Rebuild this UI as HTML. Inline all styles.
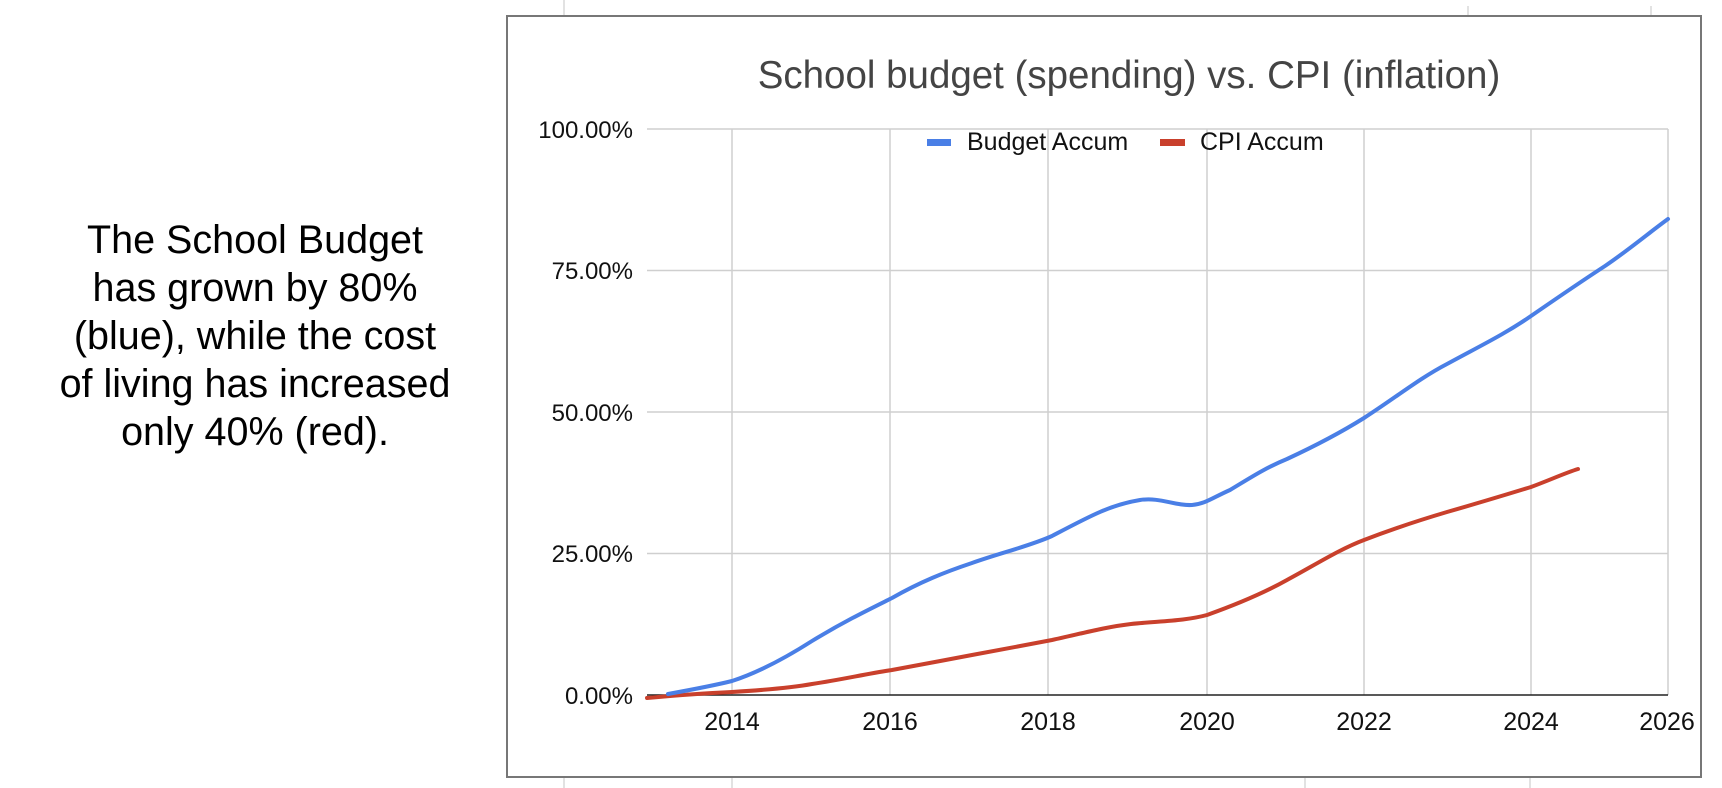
<!DOCTYPE html>
<html><head><meta charset="utf-8"><style>
html,body{margin:0;padding:0;background:#fff;width:1722px;height:788px;overflow:hidden}
svg{display:block}
</style></head><body>
<svg width="1722" height="788" viewBox="0 0 1722 788" xmlns="http://www.w3.org/2000/svg" font-family="Liberation Sans, Arial, sans-serif">
<rect width="1722" height="788" fill="#fff"/>
<g stroke="#d8d8d8" stroke-width="1.5">
<line x1="564" y1="0" x2="564" y2="16"/><line x1="1468" y1="6" x2="1468" y2="16"/><line x1="1651" y1="6" x2="1651" y2="16"/>
<line x1="564" y1="777" x2="564" y2="788"/><line x1="732" y1="777" x2="732" y2="788"/><line x1="1305" y1="777" x2="1305" y2="788"/><line x1="1530" y1="777" x2="1530" y2="788"/>
</g>
<rect x="507" y="16" width="1194" height="761" fill="#fff" stroke="#777" stroke-width="2"/>
<g font-size="39.5" fill="#000" text-anchor="middle">
<text x="255" y="253">The School Budget</text>
<text x="255" y="301">has grown by 80%</text>
<text x="255" y="349">(blue), while the cost</text>
<text x="255" y="397">of living has increased</text>
<text x="255" y="445">only 40% (red).</text>
</g>
<text x="1129" y="88" font-size="38.5" fill="#444" text-anchor="middle">School budget (spending) vs. CPI (inflation)</text>
<g stroke="#cfcfcf" stroke-width="1.5">
<line x1="647" y1="129" x2="1668" y2="129"/><line x1="647" y1="270.5" x2="1668" y2="270.5"/><line x1="647" y1="412" x2="1668" y2="412"/><line x1="647" y1="553.5" x2="1668" y2="553.5"/>
<line x1="732" y1="129" x2="732" y2="695"/><line x1="890" y1="129" x2="890" y2="695"/><line x1="1048" y1="129" x2="1048" y2="695"/><line x1="1207" y1="129" x2="1207" y2="695"/><line x1="1364" y1="129" x2="1364" y2="695"/><line x1="1531" y1="129" x2="1531" y2="695"/><line x1="1668" y1="129" x2="1668" y2="695"/>
</g>
<line x1="647" y1="695" x2="1668" y2="695" stroke="#222" stroke-width="1.5"/>
<g font-size="24" fill="#111" text-anchor="end">
<text x="633" y="138">100.00%</text><text x="633" y="279">75.00%</text><text x="633" y="421">50.00%</text><text x="633" y="562">25.00%</text><text x="633" y="704">0.00%</text>
</g>
<g font-size="25" fill="#111" text-anchor="middle">
<text x="732" y="730">2014</text><text x="890" y="730">2016</text><text x="1048" y="730">2018</text><text x="1207" y="730">2020</text><text x="1364" y="730">2022</text><text x="1531" y="730">2024</text><text x="1667" y="730">2026</text>
</g>
<rect x="927" y="139" width="24" height="7" fill="#4a7fe6"/>
<text x="967" y="150" font-size="25" fill="#111">Budget Accum</text>
<rect x="1160" y="139" width="25" height="7" fill="#c9402c"/>
<text x="1200" y="150" font-size="25" fill="#111">CPI Accum</text>
<path d="M647,698 C680,695 710,693 732,692 C765,690 790,688 812,684 C845,679 865,674 892,670 C920,665 945,660 972,655 C1000,650 1025,645 1052,640 C1080,634 1105,627 1131,624 C1160,621 1185,621 1207,615 C1235,605 1262,594 1287,580 C1315,565 1340,549 1364,540 C1395,528 1420,520 1447,512 C1475,504 1505,495 1531,487 C1550,480 1565,473 1578,469" fill="none" stroke="#c9402c" stroke-width="4" stroke-linecap="round"/>
<path d="M668,694 C690,690 712,686 732,681 C760,672 790,655 812,641 C845,621 870,609 892,598 C920,582 945,572 972,563 C1000,553 1030,546 1052,536 C1090,516 1110,505 1140,500 C1160,497 1175,506 1192,505 C1205,504 1212,498 1230,490 C1250,478 1265,468 1287,459 C1315,446 1340,433 1364,418 C1395,398 1420,378 1447,364 C1480,346 1505,334 1531,316 C1560,296 1585,279 1605,266 C1630,249 1650,232 1668,219" fill="none" stroke="#4a7fe6" stroke-width="4" stroke-linecap="round"/>
</svg>
</body></html>
